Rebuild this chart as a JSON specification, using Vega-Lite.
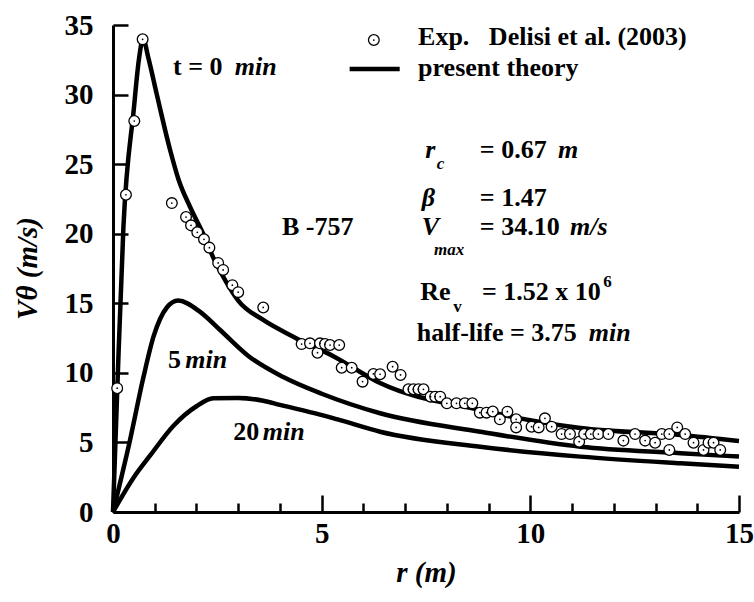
{
  "$schema": "https://vega.github.io/schema/vega-lite/v6.json",
  "width": 626,
  "height": 487,
  "autosize": {"type": "none"},
  "padding": {"left": 113, "top": 25, "right": 15, "bottom": 90},
  "background": "white",
  "config": {"view": {"stroke": null}, "font": "Liberation Serif"},
  "datasets": {
    "theory": [
      {"curve": "t0", "r": 0, "v": 0},
      {"curve": "t0", "r": 0.1, "v": 8.6},
      {"curve": "t0", "r": 0.25, "v": 20.5},
      {"curve": "t0", "r": 0.5, "v": 29.0},
      {"curve": "t0", "r": 0.62, "v": 32.5},
      {"curve": "t0", "r": 0.72, "v": 34.0},
      {"curve": "t0", "r": 0.85, "v": 32.6},
      {"curve": "t0", "r": 1.05, "v": 30.0},
      {"curve": "t0", "r": 1.37, "v": 26.0},
      {"curve": "t0", "r": 1.57, "v": 23.9},
      {"curve": "t0", "r": 1.85, "v": 21.9},
      {"curve": "t0", "r": 2.16, "v": 20.0},
      {"curve": "t0", "r": 2.4, "v": 18.3},
      {"curve": "t0", "r": 2.7, "v": 16.6},
      {"curve": "t0", "r": 3.0, "v": 15.2},
      {"curve": "t0", "r": 3.6, "v": 13.8},
      {"curve": "t0", "r": 4.32, "v": 12.6},
      {"curve": "t0", "r": 5.28, "v": 11.2},
      {"curve": "t0", "r": 6.4, "v": 9.27},
      {"curve": "t0", "r": 8.8, "v": 7.33},
      {"curve": "t0", "r": 11.2, "v": 6.04},
      {"curve": "t0", "r": 13.6, "v": 5.53},
      {"curve": "t0", "r": 15, "v": 5.1},
      {"curve": "t5", "r": 0, "v": 0},
      {"curve": "t5", "r": 0.41, "v": 5.2},
      {"curve": "t5", "r": 0.73, "v": 9.7},
      {"curve": "t5", "r": 0.97, "v": 12.6},
      {"curve": "t5", "r": 1.29, "v": 14.7},
      {"curve": "t5", "r": 1.56, "v": 15.2},
      {"curve": "t5", "r": 2.08, "v": 14.4},
      {"curve": "t5", "r": 2.56, "v": 13.1},
      {"curve": "t5", "r": 3.25, "v": 11.2},
      {"curve": "t5", "r": 4.08, "v": 9.7},
      {"curve": "t5", "r": 5.0, "v": 8.5},
      {"curve": "t5", "r": 6.4, "v": 7.1},
      {"curve": "t5", "r": 8.8, "v": 5.77},
      {"curve": "t5", "r": 11.2, "v": 4.69},
      {"curve": "t5", "r": 13.6, "v": 4.23},
      {"curve": "t5", "r": 15, "v": 3.98},
      {"curve": "t20", "r": 0, "v": 0},
      {"curve": "t20", "r": 0.5, "v": 2.5},
      {"curve": "t20", "r": 0.9, "v": 4.1},
      {"curve": "t20", "r": 1.45, "v": 6.2},
      {"curve": "t20", "r": 2.0, "v": 7.6},
      {"curve": "t20", "r": 2.4, "v": 8.17},
      {"curve": "t20", "r": 3.0, "v": 8.2},
      {"curve": "t20", "r": 3.6, "v": 8.0},
      {"curve": "t20", "r": 4.0, "v": 7.7},
      {"curve": "t20", "r": 4.96, "v": 7.0},
      {"curve": "t20", "r": 5.44, "v": 6.6},
      {"curve": "t20", "r": 6.4, "v": 5.77},
      {"curve": "t20", "r": 8.8, "v": 4.69},
      {"curve": "t20", "r": 11.2, "v": 3.98},
      {"curve": "t20", "r": 13.6, "v": 3.5},
      {"curve": "t20", "r": 15, "v": 3.26}
    ],
    "exp": [
      {"r": 0.1, "v": 8.9}, {"r": 0.31, "v": 22.8}, {"r": 0.51, "v": 28.1}, {"r": 0.71, "v": 33.97},
      {"r": 1.41, "v": 22.2}, {"r": 1.75, "v": 21.2}, {"r": 1.87, "v": 20.6}, {"r": 2.02, "v": 20.1},
      {"r": 2.18, "v": 19.6}, {"r": 2.31, "v": 19.0}, {"r": 2.52, "v": 17.9}, {"r": 2.64, "v": 17.4},
      {"r": 2.86, "v": 16.3}, {"r": 3.0, "v": 15.8}, {"r": 3.6, "v": 14.7},
      {"r": 4.52, "v": 12.07}, {"r": 4.72, "v": 12.12}, {"r": 4.9, "v": 11.45}, {"r": 4.96, "v": 12.12},
      {"r": 5.08, "v": 12.07}, {"r": 5.2, "v": 12.0}, {"r": 5.42, "v": 12.0}, {"r": 5.48, "v": 10.37},
      {"r": 5.72, "v": 10.37}, {"r": 5.98, "v": 9.37}, {"r": 6.24, "v": 9.92}, {"r": 6.4, "v": 9.9},
      {"r": 6.7, "v": 10.44}, {"r": 6.89, "v": 9.85},
      {"r": 7.08, "v": 8.82}, {"r": 7.2, "v": 8.82}, {"r": 7.32, "v": 8.82}, {"r": 7.44, "v": 8.82},
      {"r": 7.61, "v": 8.29}, {"r": 7.72, "v": 8.29}, {"r": 7.84, "v": 8.29},
      {"r": 8.0, "v": 7.81}, {"r": 8.23, "v": 7.81}, {"r": 8.43, "v": 7.81}, {"r": 8.61, "v": 7.81},
      {"r": 8.79, "v": 7.14}, {"r": 8.95, "v": 7.14}, {"r": 9.1, "v": 7.22}, {"r": 9.27, "v": 6.66},
      {"r": 9.45, "v": 7.21}, {"r": 9.66, "v": 6.66}, {"r": 9.66, "v": 6.08},
      {"r": 10.03, "v": 6.13}, {"r": 10.2, "v": 6.08}, {"r": 10.35, "v": 6.73}, {"r": 10.51, "v": 6.13},
      {"r": 10.75, "v": 5.6}, {"r": 10.95, "v": 5.6}, {"r": 11.17, "v": 5.05},
      {"r": 11.29, "v": 5.6}, {"r": 11.45, "v": 5.6}, {"r": 11.63, "v": 5.6}, {"r": 11.87, "v": 5.6},
      {"r": 12.23, "v": 5.13}, {"r": 12.51, "v": 5.6}, {"r": 12.75, "v": 5.13}, {"r": 12.99, "v": 4.98},
      {"r": 13.15, "v": 5.6}, {"r": 13.33, "v": 5.6}, {"r": 13.33, "v": 4.46}, {"r": 13.52, "v": 6.08},
      {"r": 13.71, "v": 5.6}, {"r": 13.91, "v": 4.98}, {"r": 14.15, "v": 4.46}, {"r": 14.27, "v": 4.98},
      {"r": 14.39, "v": 4.98}, {"r": 14.55, "v": 4.46}
    ],
    "legendLine": [{"r": 5.67, "v": 31.84}, {"r": 6.87, "v": 31.84}],
    "legendPoint": [{"r": 6.25, "v": 33.92}],
    "notes": [
      {"r": 1.44, "v": 31.98, "text": "t = 0", "kind": "plain"},
      {"r": 2.92, "v": 31.98, "text": "min", "kind": "italic"},
      {"r": 4.05, "v": 20.48, "text": "B -757", "kind": "plain"},
      {"r": 1.32, "v": 10.92, "text": "5", "kind": "plain"},
      {"r": 1.73, "v": 10.92, "text": "min", "kind": "italic"},
      {"r": 2.88, "v": 5.75, "text": "20", "kind": "plain"},
      {"r": 3.59, "v": 5.75, "text": "min", "kind": "italic"},
      {"r": 7.31, "v": 34.14, "text": "Exp.\u00a0\u00a0\u00a0Delisi et al. (2003)", "kind": "plain"},
      {"r": 7.31, "v": 31.91, "text": "present theory", "kind": "plain"},
      {"r": 7.48, "v": 26.02, "text": "r", "kind": "italic"},
      {"r": 7.76, "v": 25.0, "text": "c", "kind": "subitalic"},
      {"r": 8.79, "v": 26.02, "text": "= 0.67", "kind": "plain"},
      {"r": 10.66, "v": 26.02, "text": "m", "kind": "italic"},
      {"r": 7.4, "v": 22.57, "text": "β", "kind": "italic"},
      {"r": 8.79, "v": 22.57, "text": "= 1.47", "kind": "plain"},
      {"r": 7.4, "v": 20.48, "text": "V", "kind": "italic"},
      {"r": 7.69, "v": 18.85, "text": "max", "kind": "subitalic"},
      {"r": 8.79, "v": 20.48, "text": "= 34.10", "kind": "plain"},
      {"r": 10.95, "v": 20.48, "text": "m/s", "kind": "italic"},
      {"r": 7.36, "v": 15.81, "text": "Re", "kind": "plain"},
      {"r": 8.15, "v": 14.73, "text": "v", "kind": "sub"},
      {"r": 8.84, "v": 15.81, "text": "= 1.52 x 10", "kind": "plain"},
      {"r": 11.75, "v": 16.5, "text": "6", "kind": "sub"},
      {"r": 7.28, "v": 12.86, "text": "half-life = 3.75", "kind": "plain"},
      {"r": 11.4, "v": 12.86, "text": "min", "kind": "italic"}
    ]
  },
  "encoding": {
    "x": {
      "field": "r", "type": "quantitative",
      "scale": {"domain": [0, 15], "nice": false, "zero": false},
      "axis": {
        "values": [0,1,2,3,4,5,6,7,8,9,10,11,12,13,14,15],
        "labelExpr": "datum.value % 5 === 0 ? datum.label : ''",
        "tickSize": {"condition": {"test": "datum.value % 5 === 0", "value": -17}, "value": -9},
        "tickWidth": 2.5, "tickColor": "black",
        "domainWidth": 3, "domainColor": "black", "grid": false,
        "labelFont": "Liberation Serif", "labelFontWeight": "bold", "labelFontSize": 29, "labelColor": "black",
        "labelPadding": 24, "labelFlush": false,
        "title": "r (m)", "titleFont": "Liberation Serif", "titleFontWeight": "bold", "titleFontStyle": "italic",
        "titleFontSize": 29, "titleColor": "black", "titleX": 313, "titleY": 60, "titleBaseline": "middle", "titleAlign": "center"
      }
    },
    "y": {
      "field": "v", "type": "quantitative",
      "scale": {"domain": [0, 35], "nice": false, "zero": false},
      "axis": {
        "values": [0,5,10,15,20,25,30,35],
        "tickSize": -15, "tickWidth": 2.5, "tickColor": "black",
        "domainWidth": 3, "domainColor": "black", "grid": false,
        "labelFont": "Liberation Serif", "labelFontWeight": "bold", "labelFontSize": 29, "labelColor": "black",
        "labelPadding": 35, "labelFlush": false, "labelBaseline": "middle",
        "title": "Vθ (m/s)", "titleFont": "Liberation Serif", "titleFontWeight": "bold", "titleFontStyle": "italic",
        "titleFontSize": 29, "titleColor": "black", "titleX": -86, "titleY": 243, "titleAngle": -90,
        "titleBaseline": "middle", "titleAlign": "center"
      }
    }
  },
  "layer": [
    {
      "data": {"name": "theory"},
      "mark": {"type": "line", "color": "black", "strokeWidth": 4.5, "interpolate": "monotone"},
      "encoding": {"detail": {"field": "curve"}}
    },
    {
      "data": {"name": "legendLine"},
      "mark": {"type": "line", "color": "black", "strokeWidth": 4.5},
      "encoding": {}
    },
    {
      "data": {"name": "exp"},
      "mark": {"type": "point", "shape": "circle", "filled": true, "fill": "white", "stroke": "black", "strokeWidth": 1.3, "size": 115, "opacity": 1}
    },
    {
      "data": {"name": "exp"},
      "mark": {"type": "point", "shape": "circle", "filled": true, "fill": "black", "size": 3, "opacity": 1}
    },
    {
      "data": {"name": "legendPoint"},
      "mark": {"type": "point", "shape": "circle", "filled": true, "fill": "white", "stroke": "black", "strokeWidth": 1.3, "size": 115, "opacity": 1}
    },
    {
      "data": {"name": "legendPoint"},
      "mark": {"type": "point", "shape": "circle", "filled": true, "fill": "black", "size": 3, "opacity": 1}
    },
    {
      "data": {"name": "notes"},
      "transform": [{"filter": "datum.kind === 'plain'"}],
      "mark": {"type": "text", "align": "left", "baseline": "middle", "font": "Liberation Serif", "fontWeight": "bold", "fontSize": 26, "color": "black"},
      "encoding": {"text": {"field": "text"}}
    },
    {
      "data": {"name": "notes"},
      "transform": [{"filter": "datum.kind === 'italic'"}],
      "mark": {"type": "text", "align": "left", "baseline": "middle", "font": "Liberation Serif", "fontWeight": "bold", "fontStyle": "italic", "fontSize": 26, "color": "black"},
      "encoding": {"text": {"field": "text"}}
    },
    {
      "data": {"name": "notes"},
      "transform": [{"filter": "datum.kind === 'subitalic'"}],
      "mark": {"type": "text", "align": "left", "baseline": "middle", "font": "Liberation Serif", "fontWeight": "bold", "fontStyle": "italic", "fontSize": 17, "color": "black"},
      "encoding": {"text": {"field": "text"}}
    },
    {
      "data": {"name": "notes"},
      "transform": [{"filter": "datum.kind === 'sub'"}],
      "mark": {"type": "text", "align": "left", "baseline": "middle", "font": "Liberation Serif", "fontWeight": "bold", "fontSize": 17, "color": "black"},
      "encoding": {"text": {"field": "text"}}
    }
  ]
}
